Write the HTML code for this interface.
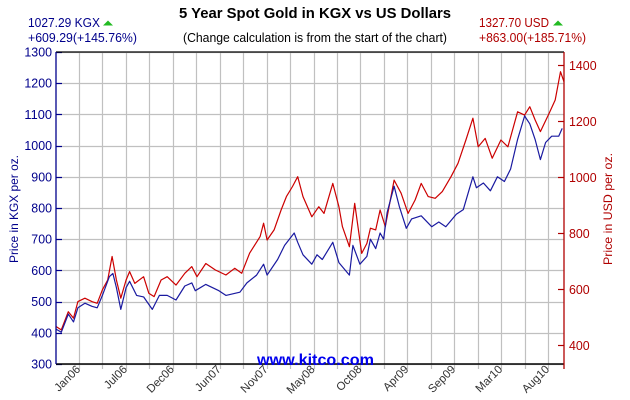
<!DOCTYPE html>
<html><head><meta charset="utf-8">
<style>
html,body{margin:0;padding:0;background:#fff;}
svg{display:block;font-family:"Liberation Sans",Arial,sans-serif;}
</style></head>
<body>
<svg id="chart" width="630" height="400" viewBox="0 0 630 400">
  <text x="179" y="18" font-size="14.5" font-weight="bold" fill="#000" textLength="272" lengthAdjust="spacingAndGlyphs">5 Year Spot Gold in KGX vs US Dollars</text>
  <text x="28" y="27" font-size="12.5" fill="#00008b" textLength="72" lengthAdjust="spacingAndGlyphs">1027.29 KGX</text>
  <polygon points="103,25.5 113,25.5 108,20.5" fill="#22bb22"/>
  <text x="28" y="42" font-size="12.5" fill="#00008b" textLength="109" lengthAdjust="spacingAndGlyphs">+609.29(+145.76%)</text>
  <text x="183" y="42" font-size="12.5" fill="#000" textLength="264" lengthAdjust="spacingAndGlyphs">(Change calculation is from the start of the chart)</text>
  <text x="479" y="27" font-size="12.5" fill="#b00000" textLength="70" lengthAdjust="spacingAndGlyphs">1327.70 USD</text>
  <polygon points="553,25.5 563,25.5 558,20.5" fill="#22bb22"/>
  <text x="479" y="42" font-size="12.5" fill="#b00000" textLength="107" lengthAdjust="spacingAndGlyphs">+863.00(+185.71%)</text>
  <g id="grid"></g>
  <g id="series"></g>
  <g id="axes"></g>
  <text x="257" y="365" font-size="16" font-weight="bold" fill="#0000ee" textLength="117" lengthAdjust="spacingAndGlyphs">www.kitco.com</text>
  <text transform="translate(18,263) rotate(-90)" font-size="12" fill="#00008b" textLength="108" lengthAdjust="spacingAndGlyphs">Price in KGX per oz.</text>
  <text transform="translate(612,265) rotate(-90)" font-size="12" fill="#b00000" textLength="112" lengthAdjust="spacingAndGlyphs">Price in USD per oz.</text>
</svg>
<script>
const kgxMonths=[0,0.6,1.4,2.0,2.5,3.3,4.1,4.7,5.3,6.1,6.5,6.9,7.4,8.0,8.4,9.2,10.0,11.0,11.8,12.7,13.7,14.7,15.5,15.9,17.1,18.6,19.4,21.0,21.8,22.9,23.7,24.1,25.3,26.1,27.2,27.6,28.2,29.2,29.8,30.4,31.6,32.3,33.5,33.9,34.7,35.5,35.9,36.5,37.0,37.4,37.8,38.6,39.2,40.0,40.6,41.7,42.9,43.7,44.5,45.7,46.5,47.6,48.0,48.8,49.6,50.4,51.2,51.9,52.7,53.5,54.1,54.7,55.3,55.9,56.6,57.4,57.8];
const kgxValues=[412,402,460,435,480,495,485,480,520,580,590,545,475,545,565,520,515,475,520,520,505,550,560,535,555,535,520,530,560,585,620,585,635,680,720,690,650,620,650,635,690,625,585,680,620,645,700,670,720,700,785,870,805,735,765,775,740,755,740,780,795,900,865,880,855,900,885,925,1020,1095,1070,1020,955,1010,1030,1030,1055];
const usdMonths=[0,0.6,1.4,2.0,2.5,3.3,4.1,4.7,5.3,5.9,6.4,6.9,7.4,8.0,8.4,9.0,10.0,10.6,11.2,12.0,12.7,13.7,14.7,15.5,16.1,17.1,18.2,19.4,20.4,21.2,22.1,23.3,23.7,24.1,24.9,25.7,26.3,27.0,27.6,28.2,29.2,30.0,30.6,31.6,32.3,32.7,33.5,34.1,34.9,35.5,35.9,36.5,37.0,37.6,38.6,39.4,40.2,41.0,41.7,42.5,43.3,44.1,45.1,45.9,46.8,47.6,48.2,49.0,49.8,50.8,51.6,52.7,53.5,54.1,54.7,55.3,56.3,57.0,57.6,58.0];
const usdValues=[466,454,519,496,555,567,555,549,597,632,716,632,567,632,662,620,644,585,573,632,644,614,656,680,644,691,668,650,674,656,728,787,835,775,811,882,930,966,1001,930,858,894,870,977,894,823,751,906,727,763,817,811,882,823,989,942,870,918,977,930,924,948,1001,1049,1132,1210,1108,1138,1067,1132,1108,1233,1221,1251,1204,1162,1227,1275,1376,1340];
const leftTicks=[300,400,500,600,700,800,900,1000,1100,1200,1300];
const rightTicks=[400,600,800,1000,1200,1400];
const xLabels=["Jan06","Jul06","Dec06","Jun07","Nov07","May08","Oct08","Apr09","Sep09","Mar10","Aug10"];

const NS="http://www.w3.org/2000/svg";
const X0=56,X1=564,Y0=52,Y1=364;
const xS=m=>X0+m*(X1-X0)/58;
const yL=v=>Y1-(v-300)*(Y1-Y0)/1000;
const yR=v=>345-(v-400)*0.28;
function mk(tag,attrs,parent){const e=document.createElementNS(NS,tag);for(const k in attrs)e.setAttribute(k,attrs[k]);parent.appendChild(e);return e;}
const gridG=document.getElementById('grid'),seriesG=document.getElementById('series'),axesG=document.getElementById('axes');

for(let k=0;k<21;k++){const x=Math.round(79+k*23.45)+0.5;
  const l=mk('line',{x1:x,x2:x,y1:Y0,y2:Y1+5,stroke:'#c0c0c0','stroke-width':1.2},gridG);
  
  }
leftTicks.forEach(v=>{const y=yL(v);const yy=Math.round(y)+0.5;
  const l=mk('line',{x1:X0,x2:X1,y1:yy,y2:yy,stroke:'#c0c0c0','stroke-width':1.2},gridG);
  
  
  const t=mk('line',{x1:X0,x2:X0+6,y1:yy,y2:yy,stroke:'#00008b','stroke-width':1.2},axesG);
  
  
  const tx=mk('text',{x:X0-4,y:y+4.5,'text-anchor':'end','font-size':12.5,fill:'#00008b',textLength:String(v).length*6.9,lengthAdjust:'spacingAndGlyphs'},axesG);
  tx.textContent=v;
  
  });
rightTicks.forEach(v=>{const y=Math.round(yR(v))+0.5;
  const t=mk('line',{x1:X1-6,x2:X1,y1:y,y2:y,stroke:'#b00000','stroke-width':1.2},axesG);
  
  
  const tx=mk('text',{x:X1+5,y:y+4.5,'font-size':12.5,fill:'#b00000',textLength:String(v).length*6.9,lengthAdjust:'spacingAndGlyphs'},axesG);
  tx.textContent=v;
  
  });

function path(ms,vs,sc){return ms.map((m,i)=>(i?'L':'M')+xS(m).toFixed(1)+','+sc(vs[i]).toFixed(1)).join('');}
const pr=mk('path',{d:path(usdMonths,usdValues,yR),fill:'none',stroke:'#cc0000','stroke-width':1.2,'stroke-linejoin':'round'},seriesG);


const pb=mk('path',{d:path(kgxMonths,kgxValues,yL),fill:'none',stroke:'#1a1aa0','stroke-width':1.2,'stroke-linejoin':'round'},seriesG);



const topB=mk('line',{x1:X0,x2:X1,y1:Y0,y2:Y0,stroke:'#000','stroke-width':1.3},axesG);


const botB=mk('line',{x1:X0,x2:X1,y1:Y1,y2:Y1,stroke:'#000','stroke-width':1.5},axesG);


const la=mk('line',{x1:X0,x2:X0,y1:Y0,y2:Y1,stroke:'#00008b','stroke-width':1.3},axesG);


const ra=mk('line',{x1:X1,x2:X1,y1:Y0,y2:Y1+5,stroke:'#b00000','stroke-width':1.3},axesG);



xLabels.forEach((s,i)=>{const x=81+i*46.9;
  const t=mk('text',{transform:'translate('+x+',370) rotate(-45)','text-anchor':'end','font-size':11.5,fill:'#333'},axesG);
  t.textContent=s;
  
  });
</script>
</body></html>
